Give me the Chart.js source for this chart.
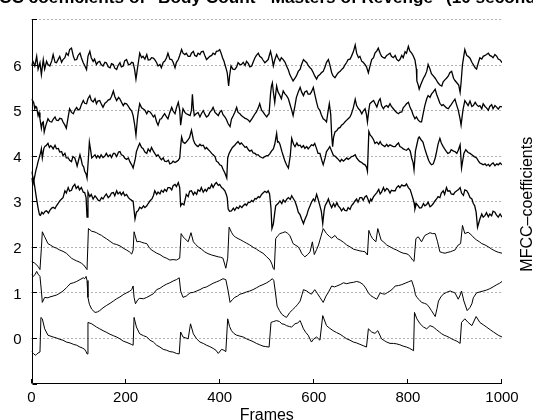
<!DOCTYPE html>
<html>
<head>
<meta charset="utf-8">
<script src="https://cdn.jsdelivr.net/npm/chart.js@4.4.1/dist/chart.umd.min.js"></script>
<style>
html,body{margin:0;padding:0;background:#fff;}
#wrap{width:533px;height:420px;position:relative;}
</style>
</head>
<body>
<div id="wrap"><canvas id="c" width="533" height="420"></canvas></div>
<script>
// ---- data: [frame, value] ----
const coef0 = [[0,-0.30],[4,-0.34],[8,-0.38],[11,-0.36],[14,-0.33],[18,-0.31],[20,0.45],[23,0.42],[28,0.20],[35,0.06],[46,0.02],[53,0.0],[60,-0.03],[67,-0.05],[74,-0.09],[82,-0.11],[89,-0.14],[96,-0.16],[103,-0.20],[108,-0.22],[113,-0.25],[116,-0.30],[118,-0.35],[120,0.34],[128,0.31],[138,0.24],[145,0.20],[152,0.16],[160,0.12],[167,0.08],[174,0.05],[181,0.02],[188,-0.02],[195,-0.07],[203,-0.10],[212,-0.14],[216,-0.16],[218,0.45],[223,0.24],[230,0.09],[238,0.05],[245,0.02],[252,-0.05],[259,-0.09],[266,-0.16],[273,-0.20],[280,-0.25],[287,-0.27],[294,-0.30],[301,-0.31],[308,-0.34],[314,-0.35],[317,0.13],[322,0.02],[328,0.0],[333,-0.02],[338,0.31],[344,0.09],[351,-0.02],[358,-0.09],[365,-0.12],[372,-0.16],[379,-0.19],[386,-0.23],[392,-0.27],[397,-0.34],[404,-0.25],[409,-0.27],[413,-0.30],[417,0.42],[421,0.25],[425,0.16],[430,0.10],[436,0.06],[443,0.04],[450,0.02],[457,-0.02],[464,-0.05],[471,-0.08],[478,-0.12],[485,-0.15],[492,-0.18],[498,-0.19],[505,-0.20],[509,0.34],[514,0.36],[521,0.38],[527,0.36],[532,0.31],[537,0.30],[542,0.27],[548,0.25],[553,0.24],[560,0.31],[566,0.33],[571,0.38],[578,0.20],[583,0.12],[588,0.06],[595,-0.09],[600,-0.02],[606,0.02],[613,-0.05],[619,0.49],[627,0.27],[634,0.21],[641,0.16],[648,0.12],[656,0.08],[663,0.03],[670,-0.02],[677,-0.05],[684,-0.09],[691,-0.11],[698,-0.14],[705,-0.17],[712,-0.20],[716,0.20],[723,0.13],[730,0.10],[736,0.16],[744,-0.02],[750,-0.06],[755,-0.09],[762,-0.12],[769,-0.12],[776,-0.13],[783,-0.15],[790,-0.18],[797,-0.20],[804,-0.23],[812,-0.28],[814,0.56],[819,0.42],[826,0.31],[833,0.24],[840,0.20],[847,0.27],[854,0.24],[861,0.18],[867,0.13],[872,0.09],[877,0.06],[882,0.04],[888,0.01],[893,-0.02],[899,-0.05],[904,-0.07],[911,-0.12],[914,0.34],[921,0.42],[928,0.34],[936,0.27],[945,0.47],[953,0.34],[960,0.29],[967,0.24],[975,0.18],[982,0.13],[992,0.06],[1000,0.02]];

const coef1 = [[0,1.39],[4,1.35],[8,1.40],[11,1.46],[14,1.40],[18,1.35],[21,1.03],[23,0.78],[28,0.89],[35,0.88],[39,0.90],[46,0.92],[53,0.94],[60,0.98],[67,1.03],[74,1.10],[78,1.14],[82,1.19],[89,1.21],[96,1.24],[103,1.28],[110,1.32],[113,1.30],[116,1.35],[118,1.26],[120,0.89],[123,0.74],[128,0.63],[135,0.56],[140,0.57],[145,0.60],[152,0.66],[159,0.71],[167,0.76],[174,0.81],[181,0.86],[188,0.90],[195,0.95],[202,0.99],[208,1.02],[213,1.06],[216,1.14],[218,0.89],[221,0.75],[226,0.84],[230,0.87],[238,0.86],[245,0.89],[252,0.93],[259,0.97],[266,1.06],[273,1.09],[280,1.14],[287,1.18],[294,1.21],[301,1.25],[308,1.28],[314,1.32],[317,1.03],[322,0.89],[329,0.92],[337,0.99],[344,1.00],[351,1.03],[358,1.06],[365,1.10],[372,1.12],[379,1.16],[386,1.20],[393,1.23],[400,1.26],[407,1.30],[413,1.28],[418,1.03],[422,0.78],[427,0.84],[432,0.89],[438,0.92],[443,0.96],[450,0.98],[457,1.01],[464,1.03],[471,1.06],[478,1.10],[485,1.14],[492,1.17],[500,1.21],[506,1.25],[512,1.30],[515,1.26],[518,1.03],[522,0.70],[527,0.60],[532,0.52],[537,0.48],[542,0.45],[549,0.56],[555,0.62],[560,0.67],[566,0.74],[571,0.81],[575,0.95],[578,1.06],[585,1.03],[590,0.99],[595,0.96],[602,1.06],[608,0.97],[613,0.89],[620,0.78],[626,0.92],[631,1.00],[638,1.14],[644,1.12],[649,1.14],[656,1.17],[663,1.21],[670,1.19],[677,1.21],[684,1.22],[691,1.24],[698,1.22],[705,1.17],[710,1.10],[716,0.99],[721,0.93],[727,0.89],[734,0.85],[741,0.99],[746,0.97],[751,0.96],[757,1.00],[762,1.03],[768,1.08],[773,1.14],[780,1.15],[787,1.17],[794,1.20],[801,1.23],[808,1.26],[813,1.10],[816,0.95],[819,0.89],[824,0.84],[829,0.78],[835,0.76],[840,0.74],[845,0.68],[850,0.60],[855,0.52],[858,0.47],[862,0.65],[865,0.81],[870,0.90],[875,0.96],[882,1.00],[890,1.03],[895,1.01],[900,0.99],[907,0.85],[911,0.94],[914,1.03],[919,0.81],[926,0.60],[932,0.67],[936,0.75],[939,0.88],[946,0.99],[953,1.01],[960,1.03],[967,1.05],[974,1.08],[981,1.12],[989,1.17],[995,1.20],[1000,1.24]];

const coef2 = [[0,1.68],[7,1.64],[14,1.57],[18,1.50],[21,1.97],[23,2.33],[28,2.22],[35,2.07],[40,2.04],[46,2.00],[53,1.97],[60,1.93],[67,1.90],[74,1.86],[80,1.80],[85,1.75],[90,1.72],[96,1.69],[101,1.67],[106,1.64],[111,1.60],[116,1.53],[118,1.50],[121,2.40],[128,2.34],[133,2.33],[138,2.31],[143,2.28],[149,2.25],[154,2.21],[159,2.18],[167,2.12],[174,2.07],[181,2.05],[188,2.02],[195,1.97],[202,1.93],[208,1.89],[213,1.84],[216,1.93],[218,2.33],[224,2.11],[229,2.12],[234,2.10],[240,2.08],[245,2.07],[250,1.99],[255,1.93],[260,1.90],[266,1.86],[273,1.83],[280,1.78],[287,1.75],[294,1.71],[301,1.72],[308,1.71],[315,1.75],[318,2.29],[322,2.22],[326,2.18],[333,2.11],[339,2.31],[344,2.11],[349,2.05],[354,2.00],[361,1.95],[368,1.89],[375,1.85],[383,1.82],[390,1.80],[397,1.78],[402,1.77],[407,1.75],[413,1.53],[417,1.75],[420,2.43],[425,2.32],[429,2.25],[434,2.21],[439,2.18],[445,2.15],[450,2.12],[457,2.08],[464,2.04],[471,1.99],[478,1.95],[485,1.90],[492,1.86],[500,1.78],[507,1.71],[511,1.62],[514,1.52],[516,1.50],[519,2.18],[524,2.25],[528,2.29],[534,2.31],[539,2.33],[544,2.30],[549,2.25],[553,2.15],[556,2.07],[562,2.03],[567,2.00],[571,1.93],[574,1.86],[578,1.81],[581,1.78],[587,1.83],[592,1.89],[597,2.11],[601,1.83],[606,1.94],[610,2.04],[615,2.22],[620,2.40],[627,2.29],[633,2.23],[638,2.19],[645,2.25],[650,2.18],[656,2.15],[663,2.10],[670,2.04],[677,2.00],[684,1.95],[691,1.93],[698,1.91],[704,1.90],[709,1.89],[714,1.82],[717,2.36],[721,2.25],[725,2.18],[732,2.11],[736,2.40],[743,2.15],[749,2.10],[755,2.04],[762,2.00],[769,1.96],[776,1.93],[783,1.89],[790,1.86],[796,1.85],[801,1.83],[806,1.77],[810,1.71],[813,1.68],[817,2.18],[822,2.22],[829,2.11],[836,2.25],[842,2.28],[847,2.31],[852,2.29],[858,2.29],[863,2.11],[868,1.89],[874,1.87],[879,1.86],[885,1.88],[890,1.89],[895,1.91],[900,1.93],[907,2.04],[912,2.07],[916,2.47],[921,2.29],[928,2.32],[936,2.25],[941,2.19],[946,2.15],[952,2.11],[957,2.07],[964,2.04],[971,2.00],[978,1.95],[985,1.91],[992,1.88],[1000,1.86]];

const coef3 = [[0,3.65],[5,3.45],[10,3.10],[14,2.85],[17,2.70],[19,2.69],[22,2.76],[25,2.72],[29,2.78],[32,2.79],[36,2.74],[39,2.80],[43,2.85],[46,2.87],[50,2.84],[53,2.90],[57,2.96],[60,3.01],[64,3.05],[67,3.08],[71,3.23],[74,3.18],[78,3.30],[81,3.22],[85,3.24],[88,3.32],[92,3.37],[95,3.28],[99,3.33],[102,3.25],[106,3.30],[110,3.20],[113,3.19],[116,3.08],[118,2.65],[120,3.20],[124,3.10],[127,3.15],[131,3.05],[135,3.12],[138,3.08],[142,3.02],[145,3.01],[149,3.08],[152,3.05],[156,3.12],[159,3.16],[163,3.08],[167,3.12],[170,3.18],[174,3.19],[177,3.12],[181,3.23],[184,3.16],[188,3.20],[191,3.14],[195,3.20],[198,3.12],[202,3.15],[206,3.08],[209,3.05],[213,3.02],[216,3.00],[220,2.61],[223,2.76],[227,2.80],[230,2.87],[234,2.84],[238,2.90],[241,2.86],[245,2.90],[248,2.95],[252,3.01],[256,3.05],[259,3.12],[262,3.23],[266,3.15],[269,3.20],[273,3.16],[276,3.24],[280,3.20],[283,3.26],[287,3.22],[290,3.30],[294,3.30],[298,3.25],[301,3.34],[305,3.37],[308,3.32],[312,3.41],[315,3.30],[317,2.90],[320,2.95],[324,2.92],[329,3.15],[333,3.10],[336,3.22],[340,3.23],[344,3.14],[347,3.20],[351,3.15],[354,3.25],[358,3.22],[361,3.30],[365,3.20],[369,3.26],[372,3.22],[376,3.30],[379,3.28],[383,3.37],[386,3.30],[390,3.38],[393,3.41],[397,3.35],[400,3.37],[404,3.30],[407,3.28],[411,3.23],[414,3.15],[416,3.08],[418,2.83],[421,2.78],[425,2.79],[429,2.85],[432,2.80],[436,2.87],[440,2.84],[443,2.90],[447,2.86],[450,2.90],[454,2.94],[457,2.91],[461,2.98],[464,2.97],[468,3.02],[471,2.99],[475,3.06],[478,3.05],[482,3.10],[485,3.08],[489,3.15],[492,3.18],[496,3.22],[500,3.19],[503,3.23],[506,3.16],[509,2.85],[511,2.40],[514,2.50],[517,2.75],[519,2.90],[524,2.95],[528,3.01],[532,2.95],[535,3.03],[539,2.98],[543,3.05],[546,3.08],[550,3.04],[553,3.12],[557,3.05],[560,3.00],[564,2.88],[567,2.76],[571,2.70],[574,2.61],[578,2.51],[581,2.60],[585,2.69],[588,2.80],[592,2.90],[595,2.98],[599,3.05],[602,3.00],[606,3.15],[609,3.05],[613,2.90],[616,2.78],[619,2.51],[622,2.80],[624,2.90],[628,2.98],[631,3.05],[634,2.95],[638,2.86],[642,2.95],[645,2.88],[649,2.97],[652,2.90],[656,2.85],[659,2.79],[663,2.85],[666,2.80],[670,2.79],[673,2.86],[677,2.82],[680,2.90],[684,2.95],[687,3.00],[691,3.05],[694,2.98],[698,3.08],[702,3.08],[705,3.02],[709,3.10],[712,3.12],[715,3.05],[718,2.97],[721,3.05],[723,3.01],[727,3.10],[730,3.14],[734,3.19],[738,3.26],[741,3.16],[744,3.20],[748,3.30],[751,3.22],[755,3.28],[758,3.26],[762,3.18],[765,3.24],[769,3.23],[773,3.23],[776,3.30],[780,3.34],[783,3.30],[787,3.36],[790,3.34],[794,3.34],[797,3.38],[801,3.30],[805,3.25],[808,3.15],[811,3.05],[813,2.97],[815,2.83],[818,2.95],[822,2.90],[825,2.85],[829,2.86],[833,2.95],[836,2.90],[840,2.93],[843,2.98],[847,2.88],[850,2.90],[854,2.95],[857,3.00],[861,3.05],[864,3.10],[868,3.08],[871,3.18],[875,3.23],[878,3.15],[882,3.30],[885,3.22],[889,3.23],[892,3.16],[897,3.15],[900,3.20],[904,3.23],[907,3.25],[911,3.30],[914,3.18],[918,3.13],[921,3.25],[925,3.23],[928,3.18],[932,3.08],[936,3.05],[939,2.95],[942,2.90],[945,2.76],[948,2.43],[950,2.50],[953,2.61],[957,2.72],[960,2.65],[964,2.69],[967,2.75],[971,2.66],[974,2.72],[978,2.68],[981,2.78],[985,2.76],[988,2.70],[992,2.65],[996,2.72],[1000,2.65]];

const coef4 = [[0,3.51],[3,3.37],[6,3.50],[9,3.66],[12,3.78],[14,3.87],[17,3.98],[19,4.05],[21,4.15],[23,3.95],[26,4.15],[28,4.20],[31,4.22],[35,4.27],[38,4.18],[41,4.22],[43,4.20],[46,4.15],[50,4.23],[53,4.15],[57,4.16],[60,4.08],[64,4.09],[67,4.00],[71,4.05],[74,3.95],[78,3.95],[81,3.90],[85,3.87],[88,3.98],[92,3.95],[95,3.85],[97,3.77],[100,3.90],[103,4.02],[106,3.90],[108,3.80],[111,3.75],[113,3.66],[116,3.60],[118,3.51],[121,3.95],[123,4.30],[126,4.10],[128,3.95],[131,3.98],[135,4.02],[138,3.95],[141,4.00],[145,3.95],[148,4.02],[152,3.96],[156,3.99],[159,4.05],[163,3.98],[167,4.02],[170,3.96],[174,4.05],[177,4.05],[181,3.98],[185,4.08],[188,4.09],[191,4.02],[195,4.00],[198,3.95],[202,3.92],[206,3.95],[209,3.87],[213,3.80],[216,3.73],[220,3.90],[223,4.09],[227,4.20],[230,4.27],[234,4.18],[237,4.16],[241,4.08],[245,4.05],[248,4.15],[252,4.09],[255,4.18],[259,4.10],[262,4.05],[266,3.99],[269,4.02],[273,3.95],[276,3.91],[280,3.95],[283,3.88],[287,3.87],[291,3.90],[294,3.82],[298,3.84],[301,3.88],[305,3.85],[308,3.87],[312,3.90],[315,3.95],[317,4.20],[319,4.41],[322,4.30],[326,4.27],[329,4.30],[333,4.35],[336,4.40],[340,4.56],[344,4.35],[347,4.27],[351,4.22],[354,4.20],[358,4.25],[361,4.22],[365,4.23],[369,4.15],[372,4.18],[376,4.13],[379,4.10],[383,4.05],[386,4.02],[390,3.98],[393,3.88],[397,3.85],[400,3.80],[404,3.78],[407,3.70],[411,3.62],[415,3.51],[417,3.95],[420,4.05],[422,4.09],[427,4.18],[432,4.23],[436,4.28],[439,4.31],[443,4.25],[446,4.28],[450,4.23],[454,4.18],[457,4.20],[461,4.13],[464,4.10],[468,4.12],[471,4.06],[475,4.05],[478,4.02],[482,4.02],[485,3.98],[489,3.96],[492,3.95],[496,3.98],[500,4.00],[503,4.00],[507,4.05],[510,4.10],[514,4.15],[517,4.25],[521,4.49],[523,4.30],[525,4.31],[528,4.25],[532,4.10],[535,4.00],[539,3.87],[542,3.80],[546,3.73],[550,4.00],[553,4.38],[557,4.25],[560,4.20],[564,4.28],[567,4.22],[571,4.23],[574,4.18],[578,4.22],[581,4.16],[585,4.20],[588,4.15],[592,4.20],[595,4.24],[599,4.22],[602,4.27],[606,4.15],[609,4.05],[613,4.05],[617,3.90],[620,3.80],[624,3.95],[627,4.09],[631,4.15],[634,4.20],[638,4.10],[642,4.00],[645,3.99],[649,3.95],[652,3.92],[656,3.87],[659,3.92],[663,3.88],[666,3.91],[670,3.95],[673,3.92],[677,3.95],[680,3.98],[684,3.99],[688,4.02],[691,3.95],[695,3.90],[698,3.87],[702,3.85],[705,3.82],[709,3.80],[712,3.75],[714,3.66],[717,4.53],[720,4.45],[723,4.42],[727,4.35],[730,4.27],[734,4.30],[738,4.25],[741,4.31],[744,4.25],[748,4.22],[751,4.20],[755,4.25],[758,4.20],[762,4.24],[765,4.22],[769,4.20],[773,4.20],[776,4.24],[780,4.28],[783,4.20],[787,4.18],[790,4.15],[794,4.13],[797,4.12],[801,4.16],[805,4.10],[808,3.95],[811,3.85],[813,3.69],[816,4.10],[819,4.24],[822,4.38],[824,4.41],[828,4.35],[832,4.30],[836,4.15],[840,4.02],[844,3.90],[847,3.84],[850,3.80],[854,3.82],[858,3.95],[861,4.09],[864,4.25],[868,4.38],[871,4.28],[875,4.20],[878,4.15],[882,4.09],[885,4.05],[889,4.07],[892,4.13],[897,4.10],[900,4.09],[904,4.05],[907,4.12],[911,4.24],[914,3.73],[919,4.05],[923,4.13],[928,4.07],[932,4.05],[936,4.02],[941,3.98],[946,3.95],[950,3.88],[953,3.84],[957,3.82],[960,3.80],[964,3.82],[967,3.78],[971,3.81],[974,3.77],[978,3.82],[981,3.84],[985,3.78],[989,3.82],[992,3.80],[996,3.84],[1000,3.80]];

const coef5 = [[0,5.24],[3,5.20],[5,5.15],[7,5.03],[9,5.08],[11,5.06],[14,4.88],[16,4.95],[18,4.81],[21,4.60],[23,4.72],[25,4.74],[27,4.52],[30,4.65],[35,4.81],[39,4.75],[43,4.74],[46,4.80],[50,4.85],[53,4.78],[57,4.77],[60,4.82],[64,4.81],[67,4.74],[71,4.67],[74,4.60],[78,4.85],[81,5.03],[85,4.95],[89,4.92],[92,5.00],[96,5.06],[99,5.00],[103,5.03],[106,5.12],[110,5.21],[113,5.15],[117,5.14],[120,5.25],[124,5.32],[127,5.22],[131,5.18],[135,5.25],[138,5.14],[141,5.20],[145,5.21],[149,5.12],[152,5.06],[156,5.15],[159,5.17],[163,5.22],[167,5.24],[170,5.30],[174,5.42],[177,5.30],[181,5.21],[185,5.28],[188,5.24],[191,5.18],[195,5.10],[198,5.15],[202,5.14],[206,5.08],[209,5.03],[213,4.98],[216,4.88],[219,4.70],[222,4.45],[225,4.80],[227,4.96],[230,5.14],[234,5.05],[237,5.03],[241,5.00],[245,4.92],[248,4.98],[252,4.96],[255,4.92],[259,4.85],[262,4.89],[266,4.74],[269,4.67],[273,4.80],[276,4.81],[280,4.88],[283,4.92],[287,4.85],[290,4.81],[294,4.95],[298,5.06],[301,4.98],[305,4.92],[308,5.05],[312,5.17],[315,5.00],[317,4.67],[320,4.90],[322,5.03],[326,4.95],[329,4.92],[333,4.90],[337,4.88],[340,5.00],[342,5.35],[344,5.05],[346,4.88],[350,4.92],[354,4.95],[358,4.85],[361,4.92],[365,4.99],[369,4.90],[372,4.85],[376,4.88],[379,4.95],[383,5.00],[386,5.06],[390,4.95],[393,4.92],[397,4.88],[400,4.95],[404,4.99],[407,4.90],[411,4.85],[414,4.80],[418,4.70],[422,4.64],[425,4.80],[429,4.88],[432,4.95],[436,5.06],[439,4.95],[443,4.92],[446,4.88],[450,4.85],[454,4.82],[457,4.81],[461,4.78],[464,4.74],[468,4.80],[471,4.85],[475,4.92],[478,4.96],[482,5.05],[485,5.14],[489,5.00],[492,4.96],[496,4.90],[500,4.85],[503,4.90],[505,4.92],[508,5.35],[510,5.53],[512,5.60],[514,5.40],[517,5.17],[519,5.35],[521,5.53],[524,5.40],[528,5.32],[531,5.25],[535,5.42],[539,5.35],[542,5.32],[546,5.25],[549,5.14],[553,5.00],[556,4.88],[560,5.10],[563,5.28],[567,5.40],[571,5.50],[574,5.40],[578,5.32],[581,5.40],[585,5.42],[588,5.35],[592,5.35],[595,5.40],[599,5.50],[602,5.35],[606,5.17],[609,5.05],[613,4.99],[616,4.90],[620,4.81],[624,4.78],[627,4.74],[630,4.95],[633,5.14],[636,4.90],[638,4.45],[640,4.20],[642,4.40],[645,4.52],[649,4.55],[652,4.60],[656,4.62],[659,4.67],[663,4.70],[666,4.74],[670,4.78],[673,4.81],[677,4.85],[680,4.92],[684,5.05],[688,5.24],[691,5.10],[695,5.03],[698,5.00],[702,4.92],[705,4.98],[709,5.03],[712,4.90],[714,4.74],[717,5.00],[719,5.14],[723,5.18],[727,5.21],[730,5.15],[734,5.07],[738,5.20],[741,5.25],[744,5.10],[748,5.03],[751,5.08],[755,5.10],[758,5.06],[762,5.14],[765,5.08],[769,5.03],[773,4.98],[776,4.95],[780,4.92],[783,4.95],[787,4.96],[790,5.05],[794,5.10],[797,5.14],[801,5.17],[805,5.05],[808,4.99],[811,4.90],[815,4.81],[818,4.85],[822,4.78],[826,4.74],[829,4.74],[833,4.95],[836,5.10],[840,5.25],[843,5.32],[847,5.28],[850,5.35],[854,5.40],[858,5.46],[861,5.35],[865,5.24],[868,5.15],[872,5.10],[875,5.12],[879,5.08],[882,5.05],[886,5.03],[889,5.08],[892,5.12],[897,5.20],[900,5.24],[904,5.10],[907,5.00],[911,4.80],[913,4.67],[917,5.00],[921,5.21],[925,5.15],[928,5.10],[932,5.20],[936,5.08],[939,5.10],[943,5.17],[946,5.12],[950,5.08],[953,5.10],[957,5.03],[960,5.14],[964,5.08],[967,5.05],[971,5.00],[974,5.08],[978,5.12],[981,5.03],[985,5.10],[989,5.06],[992,5.02],[996,5.08],[1000,5.07]];

const coef6 = [[0,5.97],[3,6.07],[7,5.97],[11,6.18],[14,5.90],[18,6.04],[21,5.78],[25,6.11],[28,5.90],[32,6.07],[35,6.00],[39,5.97],[43,6.08],[46,6.22],[50,6.05],[53,6.04],[57,6.12],[60,6.18],[64,6.05],[67,6.11],[71,6.15],[74,6.25],[78,6.20],[81,6.33],[85,6.36],[89,6.18],[92,6.10],[96,6.11],[99,6.20],[103,6.25],[106,6.15],[110,6.04],[113,5.98],[117,5.89],[120,6.18],[124,6.29],[127,6.15],[131,6.07],[134,6.12],[138,6.00],[141,6.05],[145,6.07],[148,6.00],[152,5.97],[156,6.05],[159,6.04],[163,5.95],[167,5.93],[170,6.02],[174,6.00],[177,5.92],[181,5.89],[184,5.98],[188,6.04],[191,5.95],[195,5.97],[198,6.08],[202,6.11],[206,6.00],[209,6.00],[213,6.05],[216,6.04],[219,5.90],[222,5.68],[225,5.90],[227,6.04],[230,6.25],[234,6.15],[237,6.18],[241,6.12],[245,6.22],[248,6.10],[252,6.11],[255,6.15],[259,6.14],[262,6.11],[266,6.04],[269,5.97],[273,6.00],[276,5.93],[280,6.05],[283,6.07],[287,6.15],[290,6.25],[294,6.12],[298,6.11],[301,6.05],[305,5.93],[308,6.05],[312,6.11],[315,6.20],[319,6.33],[322,6.25],[326,6.22],[329,6.25],[333,6.18],[337,6.18],[340,6.25],[344,6.29],[347,6.20],[351,6.18],[354,6.25],[358,6.22],[361,6.28],[365,6.29],[369,6.18],[372,6.11],[376,6.15],[379,6.18],[383,6.20],[386,6.25],[390,6.22],[393,6.29],[397,6.30],[400,6.33],[403,6.25],[406,6.15],[409,6.08],[411,6.00],[414,5.90],[416,5.82],[419,5.53],[421,5.75],[424,5.97],[428,5.90],[432,5.89],[436,5.95],[439,6.04],[443,6.00],[446,6.00],[450,6.05],[454,5.98],[457,6.07],[461,6.02],[464,5.95],[468,5.97],[471,6.05],[475,6.15],[478,6.20],[482,6.25],[485,6.18],[489,6.15],[492,6.10],[496,6.04],[500,6.08],[503,6.11],[506,6.22],[508,6.29],[511,6.15],[514,5.97],[517,6.10],[521,6.22],[524,6.15],[528,6.08],[531,6.15],[535,6.11],[539,6.05],[542,5.97],[546,5.88],[549,5.78],[553,5.70],[556,5.64],[560,5.70],[563,5.75],[567,5.85],[571,5.90],[574,6.00],[578,6.11],[581,6.08],[585,6.04],[588,5.98],[592,5.93],[595,5.90],[599,5.82],[602,5.75],[606,5.68],[609,5.75],[613,5.78],[616,5.82],[620,5.85],[624,5.95],[627,6.05],[631,6.11],[634,6.00],[638,5.82],[641,5.75],[645,5.71],[649,5.78],[652,5.82],[656,5.85],[659,5.89],[663,5.93],[666,5.99],[670,6.05],[673,6.11],[677,6.12],[680,6.18],[684,6.28],[688,6.43],[691,6.25],[695,6.15],[698,6.18],[702,6.07],[705,6.05],[709,6.00],[712,5.95],[716,5.82],[719,5.95],[723,6.11],[727,6.15],[730,6.25],[734,6.30],[737,6.36],[741,6.25],[744,6.18],[748,6.15],[751,6.14],[755,6.20],[758,6.22],[762,6.25],[765,6.18],[769,6.15],[773,6.20],[776,6.12],[780,6.08],[783,6.11],[787,6.20],[790,6.15],[794,6.28],[797,6.25],[801,6.40],[804,6.30],[808,6.25],[811,6.20],[815,6.10],[818,5.90],[819,5.64],[822,5.55],[824,5.46],[827,5.55],[829,5.60],[833,5.70],[836,5.75],[840,5.85],[843,6.00],[847,5.90],[850,5.80],[854,5.75],[858,5.70],[861,5.65],[864,5.60],[868,5.55],[872,5.53],[875,5.62],[879,5.67],[882,5.70],[886,5.75],[889,5.82],[893,5.85],[897,5.70],[900,5.65],[904,5.60],[908,5.55],[911,5.39],[913,5.60],[916,6.00],[921,6.33],[925,6.20],[928,6.18],[932,6.14],[936,6.05],[939,6.00],[943,5.93],[946,5.90],[950,6.05],[953,6.15],[957,6.12],[960,6.18],[964,6.20],[967,6.22],[971,6.25],[974,6.20],[978,6.18],[981,6.15],[985,6.22],[989,6.18],[992,6.12],[996,6.10],[1000,6.04]];

const xTicks = [0, 200, 400, 600, 800, 1000];
const yTicks = [-1, 0, 1, 2, 3, 4, 5, 6, 7];
const yLabelled = [0, 1, 2, 3, 4, 5, 6];
const gridLevels = [0, 1, 2, 3, 4, 5, 6, 7];
const titleText = 'MFCC coefficients of "Body Count - Masters of Revenge" (10 seconds)';
const xTitle = 'Frames';
const yTitle = 'MFCC\u2013coefficients';

const FONT = "'Liberation Sans', Arial, Helvetica, sans-serif";
const series = [coef0, coef1, coef2, coef3, coef4, coef5, coef6];
const noisy = [false, false, false, true, true, true, true];

const decor = {
  id: 'decor',
  beforeDatasetsDraw(chart) {
    const {ctx, chartArea: a, scales: {y}} = chart;
    ctx.save();
    ctx.strokeStyle = 'rgba(0,0,0,0.6)';
    ctx.lineWidth = 1;
    ctx.setLineDash([1, 3]);
    for (const v of gridLevels) {
      const py = Math.round(y.getPixelForValue(v)) + 0.5;
      ctx.beginPath(); ctx.moveTo(a.left, py); ctx.lineTo(a.right, py); ctx.stroke();
    }
    ctx.restore();
  },
  afterDraw(chart) {
    const {ctx, chartArea: a, scales: {x, y}} = chart;
    ctx.save();
    ctx.strokeStyle = '#000';
    ctx.lineWidth = 1;
    const L = Math.round(a.left) + 0.5, B = Math.round(a.bottom) - 0.5;
    ctx.beginPath();
    ctx.moveTo(L, Math.round(a.top)); ctx.lineTo(L, B);
    ctx.lineTo(Math.round(a.right), B);
    ctx.stroke();
    const tl = 4.5;
    ctx.beginPath();
    for (const t of xTicks) {
      const px = Math.round(x.getPixelForValue(t)) - 0.5;
      ctx.moveTo(px, B); ctx.lineTo(px, B - tl);
    }
    for (const t of yTicks) {
      const py = Math.round(y.getPixelForValue(t)) + 0.5;
      ctx.moveTo(L, py); ctx.lineTo(L + tl, py);
    }
    ctx.stroke();

    ctx.fillStyle = '#000';
    // title (partly outside the canvas, as in the reference)
    ctx.font = 'bold 17.2px ' + FONT;
    ctx.textAlign = 'left';
    ctx.textBaseline = 'alphabetic';
    const pre = ctx.measureText('MF').width;
    ctx.fillText(titleText, -1 - pre, 3);

    // x title
    ctx.font = '16px ' + FONT;
    ctx.textAlign = 'center';
    ctx.fillText(xTitle, (a.left + a.right) / 2, 419.5);

    // y title on the right
    ctx.translate(531.5, (a.top + a.bottom) / 2 + 3);
    ctx.rotate(-Math.PI / 2);
    ctx.textAlign = 'center';
    ctx.fillText(yTitle, 0, 0);
    ctx.restore();
  }
};

new Chart(document.getElementById('c'), {
  type: 'line',
  data: {
    datasets: series.map((s, i) => ({
      label: 'c' + i,
      data: s.map(p => ({x: p[0], y: p[1]})),
      borderColor: '#000',
      borderWidth: noisy[i] ? 1.3 : 1,
      pointRadius: 0,
      fill: false,
      tension: 0
    }))
  },
  options: {
    responsive: false,
    animation: false,
    events: [],
    layout: {padding: {top: 13.5, right: 31, left: 0, bottom: 0}},
    plugins: {legend: {display: false}, tooltip: {enabled: false}, title: {display: false}},
    scales: {
      x: {
        type: 'linear', min: 0, max: 1000,
        grid: {display: false, drawTicks: false},
        border: {display: false},
        afterBuildTicks: s => { s.ticks = xTicks.map(v => ({value: v})); },
        ticks: {color: '#000', font: {family: FONT, size: 15}, padding: 5, maxRotation: 0, autoSkip: false,
          callback: v => String(v)},
        afterFit: s => { s.height = 36.5; }
      },
      y: {
        type: 'linear', min: -1, max: 7,
        grid: {display: false, drawTicks: false},
        border: {display: false},
        afterBuildTicks: s => { s.ticks = yTicks.map(v => ({value: v})); },
        ticks: {color: '#000', font: {family: FONT, size: 15}, padding: 10, labelOffset: 2,
          callback: v => yLabelled.includes(v) ? String(v) : ''},
        afterFit: s => { s.width = 31.5; }
      }
    }
  },
  plugins: [decor]
});
</script>
</body>
</html>
